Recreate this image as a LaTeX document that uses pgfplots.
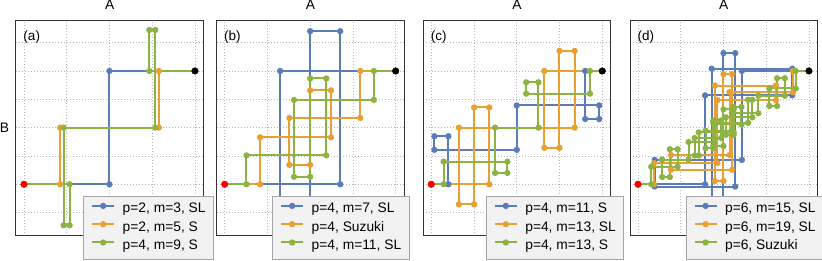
\documentclass[border=0pt]{standalone}
\usepackage{pgfplots}
\pgfplotsset{compat=1.18}
\usepackage{fontspec}
\setmainfont{Liberation Sans}
\definecolor{cblue}{HTML}{5A7DBA}
\definecolor{corange}{HTML}{E8A033}
\definecolor{cgreen}{HTML}{8DB443}
\newcommand{\lblfont}{\fontsize{13.8}{16}\selectfont}
\newcommand{\panellabel}[1]{%
  \node[anchor=base west, inner sep=0pt, font=\fontsize{13.5}{16}\selectfont] at (rel axis cs:0,1) [xshift=7.3pt, yshift=-20pt] {#1};%
  \node[anchor=base, inner sep=0pt, font=\lblfont] at (rel axis cs:0.5,1) [yshift=10.3pt] {A};}
\pgfplotsset{
  panel/.style={
    scale only axis, width=187.5pt, height=215.7pt,
    xmin=-0.0468, xmax=1.05, ymin=-0.454, ymax=1.45,
    xtick={0,0.25,0.5,0.75,1}, ytick={-0.25,0,0.25,0.5,0.75,1,1.25},
    xticklabels={}, yticklabels={},
    major tick length=0pt,
    grid=major,
    major grid style={dash pattern=on 1pt off 2pt, color=black!28, line width=0.8pt},
    axis line style={black!80, line width=1pt},
    clip=false,
    legend cell align=left,
    legend style={font=\lblfont, draw=black!35, fill=black!5,
      anchor=north west, inner xsep=7.7pt, inner ysep=6.4pt, column sep=7.5pt, row sep=5.3pt,
      nodes={inner sep=0pt, text height=10pt, text depth=3pt}},
    legend image code/.code={\draw[mark repeat=2, mark phase=2] plot coordinates {(0pt,3.5pt) (11pt,3.5pt) (22pt,3.5pt)};},
  },
  s1/.style={color=cblue, line width=2pt, mark=*, mark size=2.1pt},
  s2/.style={color=corange, line width=2pt, mark=*, mark size=2.1pt},
  s3/.style={color=cgreen, line width=2pt, mark=*, mark size=2.1pt},
  ends/.style={only marks, mark=*, mark size=3.3pt, forget plot},
}
\begin{document}
\begin{tikzpicture}[x=1pt,y=1pt]
\useasboundingbox (0,0) rectangle (822,-260);
% ---------------- (a)
\begin{axis}[panel, at={(16pt,-20pt)}, anchor=north west,
  legend style={at={(0.359,0.1827)}},
  after end axis/.code={\panellabel{(a)}\node[font=\lblfont, inner sep=0pt] at (rel axis cs:0,0.5) [xshift=-11.5pt] {B};}]
\addplot[s1] coordinates {(0,0) (0.5,0) (0.5,1) (1,1)};
\addlegendentry{p=2, m=3, SL}
\addplot[s2] coordinates {(0,0) (0.2113,0) (0.2113,0.5) (0.7887,0.5) (0.7887,1) (1,1)};
\addlegendentry{p=2, m=5, S}
\addplot[s3] coordinates {(0,0) (0.267,0) (0.267,-0.362) (0.232,-0.362) (0.232,0.5) (0.768,0.5) (0.768,1.362) (0.733,1.362) (0.733,1) (1,1)};
\addlegendentry{p=4, m=9, S}
\addplot[ends, red] coordinates {(0,0)};
\addplot[ends, black] coordinates {(1,1)};
\end{axis}
% ---------------- (b)
\begin{axis}[panel, at={(216.7pt,-20pt)}, anchor=north west,
  legend style={at={(0.2965,0.1827)}},
  after end axis/.code={\panellabel{(b)}}]
\addplot[s1] coordinates {(0,0) (0.6756,0) (0.6756,1.3512) (0.5,1.3512) (0.5,-0.3512) (0.3244,-0.3512) (0.3244,1) (1,1)};
\addlegendentry{p=4, m=7, SL}
\addplot[s2] coordinates {(0,0) (0.2072,0) (0.2072,0.4145) (0.6217,0.4145) (0.6217,0.8290) (0.5,0.8290) (0.5,0.1710) (0.3783,0.1710) (0.3783,0.5855) (0.7928,0.5855) (0.7928,1) (1,1)};
\addlegendentry{p=4, Suzuki}
\addplot[s3] coordinates {(0,0) (0.1275,0) (0.1275,0.255) (0.5945,0.255) (0.5945,0.934) (0.5,0.934) (0.5,0.066) (0.4055,0.066) (0.4055,0.745) (0.8725,0.745) (0.8725,1) (1,1)};
\addlegendentry{p=4, m=11, SL}
\addplot[ends, red] coordinates {(0,0)};
\addplot[ends, black] coordinates {(1,1)};
\end{axis}
% ---------------- (c)
\begin{axis}[panel, at={(423.3pt,-20pt)}, anchor=north west,
  legend style={at={(0.334,0.1827)}},
  after end axis/.code={\panellabel{(c)}}]
\addplot[s1] coordinates {(0,0) (0.1,0) (0.1,0.424) (0.018,0.424) (0.018,0.304) (0.5,0.304) (0.5,0.696) (0.982,0.696) (0.982,0.576) (0.9,0.576) (0.9,1) (1,1)};
\addlegendentry{p=4, m=11, S}
\addplot[s2] coordinates {(0,0) (0.339,0) (0.339,0.678) (0.2505,0.678) (0.2505,-0.177) (0.1615,-0.177) (0.1615,0.5) (0.8385,0.5) (0.8385,1.177) (0.7495,1.177) (0.7495,0.322) (0.661,0.322) (0.661,1) (1,1)};
\addlegendentry{p=4, m=13, SL}
\addplot[s3] coordinates {(0,0) (0.072,0) (0.072,0.2) (0.445,0.2) (0.445,0.1) (0.373,0.1) (0.373,0.5) (0.627,0.5) (0.627,0.9) (0.555,0.9) (0.555,0.8) (0.928,0.8) (0.928,1) (1,1)};
\addlegendentry{p=4, m=13, S}
\addplot[ends, red] coordinates {(0,0)};
\addplot[ends, black] coordinates {(1,1)};
\end{axis}
% ---------------- (d)
\begin{axis}[panel, at={(630pt,-20pt)}, anchor=north west,
  legend style={at={(0.297,0.1827)}},
  after end axis/.code={\panellabel{(d)}}]
\addplot[s1] coordinates {(0,0) (0.3923,0) (0.3923,0.7845) (0.9023,0.7845) (0.9023,1.0201) (0.4312,1.0201) (0.4312,-0.1576) (0.5,-0.1576) (0.5,1.1576) (0.5688,1.1576) (0.5688,-0.0201) (0.0977,-0.0201) (0.0977,0.2155) (0.6077,0.2155) (0.6077,1) (1,1)};
\addlegendentry{p=6, m=15, SL}
\addplot[s2] coordinates {(0,0) (0.0934,0) (0.0934,0.1867) (0.4645,0.1867) (0.4645,0.7422) (0.8069,0.7422) (0.8069,0.8717) (0.4500,0.8717) (0.4500,0.0284) (0.5,0.0284) (0.5,0.9716) (0.5500,0.9716) (0.5500,0.1283) (0.1931,0.1283) (0.1931,0.2578) (0.5356,0.2578) (0.5356,0.8133) (0.9067,0.8133) (0.9067,1) (1,1)};
\addlegendentry{p=6, m=19, SL}
\addplot[s3] coordinates {(0,0) (0.0773,0) (0.0773,0.1546) (0.2319,0.1546) (0.2319,0.3093) (0.1865,0.3093) (0.1865,0.0638) (0.1411,0.0638) (0.1411,0.2184) (0.2958,0.2184) (0.2958,0.3731) (0.4504,0.3731) (0.4504,0.5277) (0.6050,0.5277) (0.6050,0.6823) (0.5596,0.6823) (0.5596,0.4369) (0.5142,0.4369) (0.5142,0.5915) (0.6688,0.5915) (0.6688,0.7461) (0.6441,0.7461) (0.6441,0.5421) (0.4401,0.5421) (0.4401,0.3381) (0.5,0.3381) (0.5,0.6620) (0.5599,0.6620) (0.5599,0.4579) (0.3559,0.4579) (0.3559,0.2539) (0.3312,0.2539) (0.3312,0.4085) (0.4858,0.4085) (0.4858,0.5631) (0.4404,0.5631) (0.4404,0.3177) (0.3950,0.3177) (0.3950,0.4723) (0.5496,0.4723) (0.5496,0.6269) (0.7043,0.6269) (0.7043,0.7816) (0.8589,0.7816) (0.8589,0.9362) (0.8135,0.9362) (0.8135,0.6907) (0.7681,0.6907) (0.7681,0.8454) (0.9227,0.8454) (0.9227,1) (1,1)};
\addlegendentry{p=6, Suzuki}
\addplot[ends, red] coordinates {(0,0)};
\addplot[ends, black] coordinates {(1,1)};
\end{axis}
\end{tikzpicture}
\end{document}
